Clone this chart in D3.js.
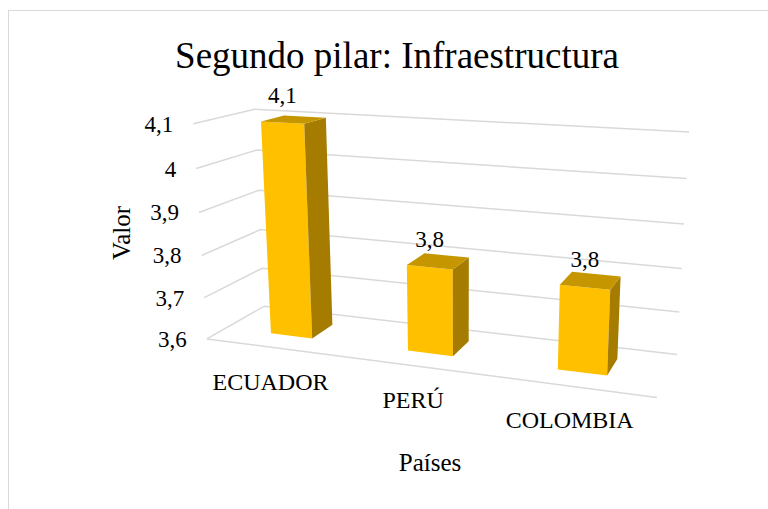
<!DOCTYPE html>
<html>
<head>
<meta charset="utf-8">
<script src="https://cdn.jsdelivr.net/npm/d3@7/dist/d3.min.js"></script>
<style>
  body { margin: 0; background: #fff; }
  svg { display: block; }
  text { font-family: "Liberation Serif", "Times New Roman", serif; fill: #000; }
</style>
</head>
<body>
<div id="chart"></div>
<script>
// datos
const categories = ["ECUADOR", "PERÚ", "COLOMBIA"];
const values = [4.1, 3.8, 3.79];
const valueLabels = ["4,1", "3,8", "3,8"];
const yTicks = [3.6, 3.7, 3.8, 3.9, 4.0, 4.1];
const yTickLabels = ["3,6", "3,7", "3,8", "3,9", "4", "4,1"];

const svg = d3.select("#chart").append("svg")
    .attr("width", 768)
    .attr("height", 509)
    .attr("font-family", "Liberation Serif, serif");

// marco del grafico
svg.append("rect")
    .attr("x", 8.5).attr("y", 10.5)
    .attr("width", 800).attr("height", 600)
    .attr("fill", "#fff")
    .attr("stroke", "#d9d9d9");

// caja 3D (X categorias, Y valor, Z profundidad; todo 0..1) -> esquinas en pantalla
const boxCorners = [
    [[0, 0, 0], [207, 339]],
    [[0, 1, 0], [193, 124]],
    [[0, 0, 1], [264, 306]],
    [[0, 1, 1], [255, 109]],
    [[1, 0, 1], [677, 355]],
    [[1, 1, 1], [689, 132]],
    [[1, 0, 0], [657, 397]]
];

// camara en perspectiva (DLT por minimos cuadrados)
function fitCamera(pts) {
    const A = [], b = [];
    pts.forEach(([[X, Y, Z], [u, v]]) => {
        A.push([X, Y, Z, 1, 0, 0, 0, 0, -u * X, -u * Y, -u * Z]); b.push(u);
        A.push([0, 0, 0, 0, X, Y, Z, 1, -v * X, -v * Y, -v * Z]); b.push(v);
    });
    const n = 11;
    const M = d3.range(n).map(i => d3.range(n + 1).map(j =>
        j < n ? d3.sum(A, r => r[i] * r[j]) : d3.sum(A, (r, k) => r[i] * b[k])));
    for (let i = 0; i < n; i++) {
        let p = i;
        for (let r = i + 1; r < n; r++) if (Math.abs(M[r][i]) > Math.abs(M[p][i])) p = r;
        [M[i], M[p]] = [M[p], M[i]];
        for (let r = 0; r < n; r++) {
            if (r === i) continue;
            const f = M[r][i] / M[i][i];
            for (let c = i; c <= n; c++) M[r][c] -= f * M[i][c];
        }
    }
    return M.map((r, i) => r[n] / r[i]);
}
const cam = fitCamera(boxCorners);
function project(X, Y, Z) {
    const w = cam[8] * X + cam[9] * Y + cam[10] * Z + 1;
    return [(cam[0] * X + cam[1] * Y + cam[2] * Z + cam[3]) / w,
            (cam[4] * X + cam[5] * Y + cam[6] * Z + cam[7]) / w];
}

const x = d3.scaleBand().domain(categories).range([0, 1]);
const y = d3.scaleLinear().domain([3.6, 4.1]).range([0, 1]);
const barFrac = 0.31;         // ancho de barra / banda
const z0 = 0.32, z1 = 0.72;   // profundidad de la barra

const line = d3.line();
const poly = pts => line(pts.map(p => project(...p))) + "Z";

// lineas de division: pared lateral + pared del fondo
const grid = svg.append("g")
    .attr("fill", "none")
    .attr("stroke", "#d9d9d9")
    .attr("stroke-width", 1.5);
yTicks.forEach(t => {
    grid.append("path")
        .attr("d", line([project(0, y(t), 0), project(0, y(t), 1), project(1, y(t), 1)]));
});
// borde frontal del piso
grid.append("path")
    .attr("d", line([project(0, 0, 0), project(1, 0, 0)]));

// etiquetas del eje vertical
svg.append("g").selectAll("text")
    .data(yTicks)
    .join("text")
    .attr("x", d => project(0, y(d), 0)[0] - 20)
    .attr("y", d => project(0, y(d), 0)[1] + 8)
    .attr("text-anchor", "end")
    .attr("font-size", 23)
    .text((d, i) => yTickLabels[i]);

// barras
const bars = svg.append("g");
categories.forEach((c, i) => {
    const xc = x(c) + x.bandwidth() / 2;
    const xa = xc - x.bandwidth() * barFrac / 2, xb = xc + x.bandwidth() * barFrac / 2;
    const h = y(values[i]);
    const g = bars.append("g");
    g.append("path")
        .attr("d", poly([[xa, 0, z0], [xb, 0, z0], [xb, h, z0], [xa, h, z0]]))
        .attr("fill", "#ffc000");
    g.append("path")
        .attr("d", poly([[xb, 0, z0], [xb, 0, z1], [xb, h, z1], [xb, h, z0]]))
        .attr("fill", "#a67c00");
    g.append("path")
        .attr("d", poly([[xa, h, z0], [xb, h, z0], [xb, h, z1], [xa, h, z1]]))
        .attr("fill", "#c59600");
    // etiqueta de valor
    const top = project(xc, h, z0);
    svg.append("text")
        .attr("x", top[0])
        .attr("y", top[1] - 20)
        .attr("text-anchor", "middle")
        .attr("font-size", 23)
        .text(valueLabels[i]);
});

// etiquetas de categorias
svg.append("g").selectAll("text")
    .data(categories)
    .join("text")
    .attr("x", d => project(x(d) + x.bandwidth() / 2, 0, 0)[0] - 3)
    .attr("y", d => project(x(d) + x.bandwidth() / 2, 0, 0)[1] + 42)
    .attr("text-anchor", "middle")
    .attr("font-size", 24)
    .text(d => d);

// titulos
svg.append("text")
    .attr("x", 397).attr("y", 68)
    .attr("text-anchor", "middle")
    .attr("font-size", 37)
    .text("Segundo pilar: Infraestructura");

svg.append("text")
    .attr("transform", "translate(130,233) rotate(-90)")
    .attr("text-anchor", "middle")
    .attr("font-size", 25)
    .text("Valor");

svg.append("text")
    .attr("x", 430).attr("y", 471)
    .attr("text-anchor", "middle")
    .attr("font-size", 25)
    .text("Países");
</script>
</body>
</html>
